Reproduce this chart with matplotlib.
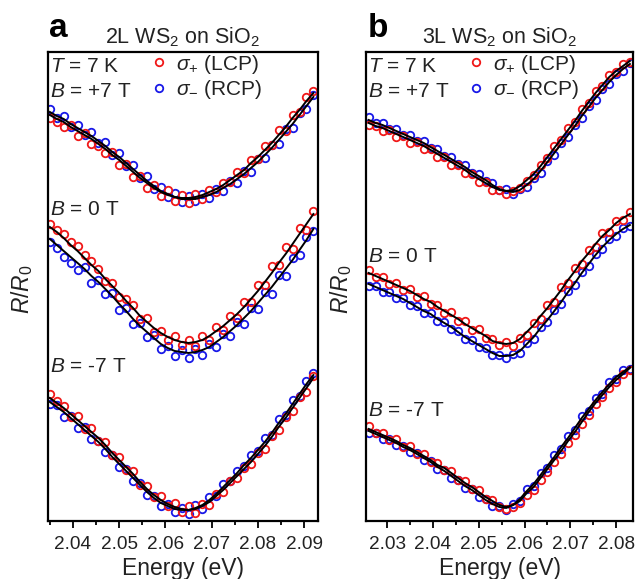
# coding=utf-8
# 2L / 3L WS2 on SiO2 反射谱 (T = 7 K, B = +7, 0, -7 T)
import matplotlib
matplotlib.use('Agg')
import matplotlib.pyplot as plt
from matplotlib.ticker import MultipleLocator
from matplotlib.lines import Line2D

plt.rcParams['font.family'] = ['Liberation Sans', 'DejaVu Sans']
plt.rcParams['mathtext.fontset'] = 'custom'
plt.rcParams['mathtext.rm'] = 'Liberation Sans'
plt.rcParams['mathtext.it'] = 'Liberation Sans:italic'

# ---------------- 数据 (R/R0, 已加偏移, 任意单位) ----------------
# panel a: 2L WS2
energyA = [2.035, 2.0365, 2.038, 2.0395, 2.041, 2.0425, 2.044, 2.0455, 2.047, 2.0485,
           2.050, 2.0515, 2.053, 2.0545, 2.056, 2.0575, 2.059, 2.0605, 2.062, 2.0635,
           2.065, 2.0665, 2.068, 2.0695, 2.071, 2.0725, 2.074, 2.0755, 2.077, 2.0785,
           2.080, 2.0815, 2.083, 2.0845, 2.086, 2.0875, 2.089, 2.0905, 2.092]

a_p7_lcp = [403, 399, 394, 396, 385, 388, 377, 375, 368, 369, 356, 357, 344, 345, 333, 336, 325, 331, 320, 326,
            318, 327, 322, 331, 329, 338, 339, 349, 348, 361, 362, 375, 376, 391, 390, 406, 409, 424, 430]
a_p7_rcp = [412, 403, 405, 394, 396, 386, 389, 378, 379, 366, 368, 355, 356, 343, 345, 332, 334, 324, 328, 319,
            325, 320, 327, 323, 332, 330, 340, 338, 350, 349, 362, 363, 376, 377, 392, 393, 408, 412, 426]
a_p7_lcp_fit = [406, 402, 399, 394, 390, 386, 382, 377, 372, 366, 361, 355, 349, 343, 338, 333, 329, 326, 324, 323,
                323, 324, 326, 329, 332, 336, 341, 346, 351, 358, 364, 371, 378, 386, 394, 403, 411, 420, 428]
a_p7_rcp_fit = [409, 405, 402, 397, 393, 389, 385, 380, 375, 369, 364, 358, 352, 346, 340, 335, 330, 327, 324, 322,
                322, 322, 324, 326, 329, 333, 337, 342, 347, 353, 359, 366, 373, 381, 389, 397, 406, 415, 424]

a_0_lcp = [297, 291, 287, 279, 275, 266, 260, 252, 240, 238, 224, 222, 216, 202, 203, 189, 190, 181, 185, 176,
           181, 175, 185, 181, 194, 191, 205, 203, 219, 219, 236, 236, 255, 256, 274, 272, 293, 291, 310]
a_0_rcp = [279, 273, 264, 258, 251, 254, 238, 241, 227, 228, 211, 213, 197, 198, 184, 186, 172, 175, 165, 171,
           163, 172, 166, 177, 174, 187, 185, 199, 197, 213, 212, 229, 227, 246, 245, 263, 266, 284, 290]
a_0_lcp_fit = [294, 289, 283, 276, 270, 263, 256, 250, 242, 235, 228, 220, 213, 205, 199, 193, 188, 184, 181, 179,
               178, 179, 181, 185, 190, 195, 201, 207, 214, 222, 230, 239, 248, 258, 267, 277, 287, 297, 307]
a_0_rcp_fit = [282, 276, 270, 264, 258, 252, 245, 239, 232, 225, 217, 210, 202, 195, 189, 183, 177, 173, 170, 169,
               168, 169, 171, 174, 179, 184, 190, 196, 203, 210, 218, 226, 234, 243, 252, 261, 271, 281, 292]

a_m7_lcp = [127, 120, 115, 104, 105, 92, 93, 80, 79, 66, 64, 51, 50, 36, 35, 24, 25, 15, 18, 9,
            15, 8, 17, 16, 27, 29, 40, 43, 53, 57, 68, 72, 85, 91, 104, 110, 124, 129, 145]
a_m7_rcp = [117, 116, 104, 105, 93, 94, 82, 80, 69, 66, 54, 52, 40, 38, 26, 25, 15, 17, 9, 13,
            7, 16, 12, 24, 25, 37, 40, 50, 55, 66, 70, 83, 86, 102, 106, 121, 125, 140, 148]
a_m7_lcp_fit = [123, 118, 113, 107, 101, 95, 89, 83, 76, 68, 61, 54, 47, 39, 32, 26, 21, 17, 14, 12,
                11, 12, 15, 19, 25, 31, 38, 45, 52, 59, 67, 75, 84, 94, 103, 113, 123, 133, 143]
a_m7_rcp_fit = [119, 114, 109, 103, 97, 91, 85, 79, 72, 64, 57, 50, 43, 36, 29, 23, 18, 15, 12, 11,
                11, 13, 16, 21, 27, 34, 41, 48, 56, 63, 71, 79, 88, 98, 107, 117, 127, 137, 146]

# panel b: 3L WS2
energyB = [2.026, 2.0275, 2.029, 2.0305, 2.032, 2.0335, 2.035, 2.0365, 2.038, 2.0395,
           2.041, 2.0425, 2.044, 2.0455, 2.047, 2.0485, 2.050, 2.0515, 2.053, 2.0545,
           2.056, 2.0575, 2.059, 2.0605, 2.062, 2.0635, 2.065, 2.0665, 2.068, 2.0695,
           2.071, 2.0725, 2.074, 2.0755, 2.077, 2.0785, 2.080, 2.0815, 2.083]

b_p7_lcp = [396, 395, 390, 391, 384, 385, 378, 379, 372, 372, 364, 364, 356, 356, 348, 347, 339, 339, 331, 331,
            327, 330, 333, 340, 346, 356, 363, 375, 381, 393, 399, 412, 418, 430, 435, 446, 449, 457, 459]
b_p7_rcp = [404, 398, 398, 392, 392, 386, 386, 380, 380, 373, 372, 365, 364, 357, 356, 348, 347, 340, 338, 331,
            332, 327, 332, 334, 343, 348, 360, 366, 378, 384, 396, 403, 415, 421, 432, 437, 447, 450, 458]
b_p7_lcp_fit = [398, 395, 393, 390, 387, 384, 381, 378, 375, 371, 367, 363, 359, 355, 351, 346, 342, 338, 334, 331,
                330, 331, 335, 341, 347, 355, 364, 373, 382, 391, 400, 410, 419, 428, 436, 444, 450, 455, 460]
b_p7_rcp_fit = [401, 398, 396, 393, 390, 387, 384, 381, 378, 374, 370, 366, 362, 358, 354, 349, 345, 341, 336, 332,
                330, 329, 331, 336, 342, 350, 359, 368, 377, 386, 395, 405, 414, 423, 431, 439, 446, 452, 457]

b_0_lcp = [251, 244, 244, 237, 238, 231, 232, 224, 225, 217, 216, 208, 209, 200, 200, 191, 192, 183, 182, 176,
           179, 175, 183, 186, 198, 202, 216, 219, 234, 238, 253, 257, 271, 274, 288, 289, 300, 301, 309]
b_0_rcp = [235, 235, 229, 229, 223, 223, 216, 215, 208, 208, 200, 199, 192, 190, 182, 181, 174, 173, 166, 166,
           163, 167, 168, 178, 182, 194, 199, 211, 217, 230, 236, 249, 255, 267, 272, 282, 285, 293, 295]
b_0_lcp_fit = [248, 245, 242, 239, 236, 233, 230, 226, 222, 219, 214, 210, 206, 202, 197, 193, 189, 185, 180, 178,
               177, 178, 182, 189, 196, 205, 213, 222, 231, 241, 250, 260, 268, 277, 285, 291, 298, 303, 307]
b_0_rcp_fit = [237, 234, 231, 228, 225, 222, 218, 214, 210, 207, 202, 198, 194, 189, 184, 180, 176, 172, 168, 165,
               165, 166, 170, 177, 184, 193, 201, 210, 219, 229, 238, 248, 257, 266, 274, 281, 287, 292, 296]

b_m7_lcp = [95, 88, 88, 81, 82, 74, 75, 67, 67, 59, 58, 51, 50, 41, 40, 32, 31, 22, 21, 14,
            12, 14, 18, 26, 31, 41, 49, 59, 67, 78, 86, 97, 106, 117, 124, 133, 139, 147, 151]
b_m7_rcp = [88, 88, 82, 82, 76, 75, 69, 68, 61, 60, 52, 51, 43, 41, 33, 32, 24, 22, 15, 15,
            11, 17, 20, 32, 35, 48, 53, 66, 72, 85, 91, 105, 110, 123, 127, 139, 142, 151, 152]
b_m7_lcp_fit = [92, 89, 86, 83, 80, 76, 73, 69, 65, 61, 56, 53, 48, 43, 38, 34, 29, 24, 20, 16,
                14, 16, 20, 28, 34, 43, 52, 61, 70, 80, 89, 99, 109, 118, 126, 134, 141, 147, 153]
b_m7_rcp_fit = [90, 87, 84, 81, 78, 74, 71, 67, 63, 59, 54, 50, 45, 40, 35, 31, 26, 21, 17, 14,
                13, 16, 22, 30, 37, 46, 55, 64, 74, 83, 93, 103, 112, 121, 129, 137, 144, 149, 154]

fieldLabels = ['$B$ = +7 T', '$B$ = 0 T', '$B$ = -7 T']

RED = '#f01818'
BLUE = '#1818e8'
TXT = '#222222'


def drawPanel(ax, energy, lcpList, rcpList, lcpFit, rcpFit, xlim, labelY, title, letter):
    for i in range(len(lcpList)):
        ax.plot(energy, rcpList[i], 'o', ms=5.4, mfc='none', mec=BLUE, mew=1.3, zorder=2)
        ax.plot(energy, lcpList[i], 'o', ms=5.4, mfc='none', mec=RED, mew=1.3, zorder=2)
        ax.plot(energy, rcpFit[i], color='black', lw=1.4, zorder=3)
        ax.plot(energy, lcpFit[i], color='black', lw=1.4, zorder=3)
    ax.set_xlim(*xlim)
    ax.set_ylim(0, 469)
    ax.set_yticks([])
    ax.xaxis.set_major_locator(MultipleLocator(0.01))
    ax.xaxis.set_minor_locator(MultipleLocator(0.005))
    ax.tick_params(axis='x', which='major', direction='out', length=5, width=1.3,
                   labelsize=13.7, labelcolor=TXT, pad=6)
    ax.tick_params(axis='x', which='minor', direction='out', length=3, width=1.3)
    for s in ax.spines.values():
        s.set_linewidth(1.6)
    ax.set_xlabel('Energy (eV)', fontsize=16.5, color=TXT, labelpad=3)
    ax.set_title(title, fontsize=15.5, color=TXT, pad=6)
    ax.text(0.005, 1.032, letter, transform=ax.transAxes, fontsize=24, fontweight='bold',
            va='baseline', ha='left')

    # 温度与磁场标注
    ax.text(0.008, 0.99, '$T$ = 7 K', transform=ax.transAxes, fontsize=15,
            color=TXT, va='top', ha='left')
    for j in range(len(fieldLabels)):
        ax.text(0.008, labelY[j], fieldLabels[j], transform=ax.transAxes, fontsize=15,
                color=TXT, va='top', ha='left')

    handles = [Line2D([], [], ls='none', marker='o', ms=5.4, mfc='none', mec=RED, mew=1.3),
               Line2D([], [], ls='none', marker='o', ms=5.4, mfc='none', mec=BLUE, mew=1.3)]
    leg = ax.legend(handles, [r'$\sigma_{+}$ (LCP)', r'$\sigma_{-}$ (RCP)'], loc='upper left',
                    bbox_to_anchor=(0.335, 1.025), frameon=False, fontsize=15,
                    handlelength=0.8, handletextpad=0.4, labelspacing=0.12, borderaxespad=0.2)
    for t in leg.get_texts():
        t.set_color(TXT)


fig = plt.figure(figsize=(6.35, 5.79), dpi=100)
ax1 = fig.add_axes([0.0756, 0.1002, 0.4252, 0.81])
ax2 = fig.add_axes([0.5764, 0.1002, 0.4206, 0.81])

drawPanel(ax1, energyA,
          [a_p7_lcp, a_0_lcp, a_m7_lcp], [a_p7_rcp, a_0_rcp, a_m7_rcp],
          [a_p7_lcp_fit, a_0_lcp_fit, a_m7_lcp_fit], [a_p7_rcp_fit, a_0_rcp_fit, a_m7_rcp_fit],
          (2.0346, 2.093), [0.935, 0.685, 0.35], '2L WS$_2$ on SiO$_2$', 'a')
drawPanel(ax2, energyB,
          [b_p7_lcp, b_0_lcp, b_m7_lcp], [b_p7_rcp, b_0_rcp, b_m7_rcp],
          [b_p7_lcp_fit, b_0_lcp_fit, b_m7_lcp_fit], [b_p7_rcp_fit, b_0_rcp_fit, b_m7_rcp_fit],
          (2.0254, 2.0837), [0.935, 0.585, 0.255], '3L WS$_2$ on SiO$_2$', 'b')

fig.text(0.034, 0.5, '$R/R_0$', rotation=90, fontsize=16.5, color=TXT, va='center', ha='center')
fig.text(0.537, 0.5, '$R/R_0$', rotation=90, fontsize=16.5, color=TXT, va='center', ha='center')

plt.savefig('out.png', dpi=100)
